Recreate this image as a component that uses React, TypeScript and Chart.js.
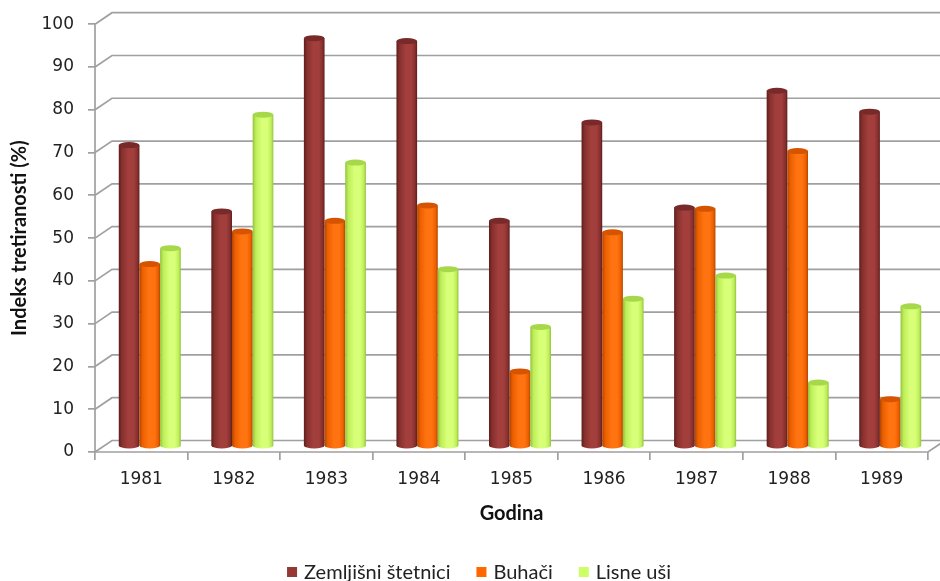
import React, { useEffect, useRef } from 'react';
import { Chart, registerables } from 'chart.js';

Chart.register(...registerables);

// ---- data ----
const years = ['1981', '1982', '1983', '1984', '1985', '1986', '1987', '1988', '1989'];
const zemljisniStetnici = [70.4, 54.9, 95.4, 94.7, 52.7, 75.7, 55.8, 83.1, 78.2];
const buhaci = [42.6, 50.2, 52.7, 56.3, 17.5, 50.0, 55.5, 69.0, 11.0];
const lisneUsi = [46.3, 77.5, 66.3, 41.4, 27.9, 34.5, 39.9, 14.9, 32.7];
const seriesLabels = ['Zemljišni štetnici', 'Buhači', 'Lisne uši'];
const yTitle = 'Indeks tretiranosti (%)';
const xTitle = 'Godina';

// ---- styles ----
const legendColors = ['#953735', '#ff6600', '#ccff66'];
const cylColors = [
  { dark: '#5e1d1c', mid: '#86302e', light: '#a23f3c', top: '#772a29' },
  { dark: '#b04600', mid: '#eb5f00', light: '#ff7410', top: '#d65400' },
  { dark: '#93c23c', mid: '#bdee58', light: '#d8ff78', top: '#a6d84a' },
];
const DX = 17;
const DY = 11.5;
const GRID = '#a0a0a0';

const wallPlugin = {
  id: 'wall3d',
  beforeDatasetsDraw(chart: any) {
    const { ctx, chartArea, scales } = chart;
    const { left, right, bottom } = chartArea;
    const y = scales.y;
    ctx.save();
    ctx.strokeStyle = GRID;
    ctx.lineWidth = 1.7;
    y.ticks.forEach((t: any) => {
      const py = y.getPixelForValue(t.value);
      ctx.beginPath();
      ctx.moveTo(left, py);
      ctx.lineTo(left + DX, py - DY);
      ctx.lineTo(chart.width + 2, py - DY);
      ctx.stroke();
    });
    // floor front edge
    ctx.beginPath();
    ctx.moveTo(left, bottom);
    ctx.lineTo(right, bottom);
    ctx.lineTo(right + DX, bottom - DY);
    ctx.stroke();
    // front vertical axis
    ctx.beginPath();
    ctx.moveTo(left, y.getPixelForValue(100));
    ctx.lineTo(left, bottom);
    ctx.stroke();
    ctx.restore();
  },
};

const cylinderPlugin = {
  id: 'cylinders',
  afterDatasetsDraw(chart: any) {
    const { ctx } = chart;
    const n = chart.data.labels.length;
    ctx.save();
    ctx.translate(DX / 2, -DY / 2);
    for (let i = 0; i < n; i++) {
      chart.data.datasets.forEach((_: any, di: number) => {
        const meta = chart.getDatasetMeta(di);
        const el = meta.data[i];
        if (!el) return;
        const { x, y, base, width } = el.getProps(['x', 'y', 'base', 'width'], true);
        const c = cylColors[di];
        const l = x - width / 2;
        const r = x + width / 2;
        const ry = 3;
        const g = ctx.createLinearGradient(l, 0, r, 0);
        g.addColorStop(0, c.dark);
        g.addColorStop(0.15, c.mid);
        g.addColorStop(0.45, c.light);
        g.addColorStop(0.72, c.light);
        g.addColorStop(0.9, c.mid);
        g.addColorStop(1, c.dark);
        ctx.beginPath();
        ctx.moveTo(l, y);
        ctx.lineTo(l, base);
        ctx.ellipse(x, base, width / 2, ry, 0, Math.PI, 0, true);
        ctx.lineTo(r, y);
        ctx.closePath();
        ctx.fillStyle = g;
        ctx.fill();
        ctx.beginPath();
        ctx.ellipse(x, y, width / 2, ry, 0, 0, Math.PI * 2);
        ctx.fillStyle = c.top;
        ctx.fill();
      });
    }
    ctx.restore();
  },
};

const legendPlugin = {
  id: 'customLegend',
  afterDraw(chart: any) {
    const { ctx } = chart;
    ctx.save();
    ctx.font = '20px Lato';
    ctx.textBaseline = 'middle';
    const box = 10;
    const gapText = 7;
    const gapItem = 26;
    const widths = seriesLabels.map((s) => ctx.measureText(s).width);
    const total = widths.reduce((a, w) => a + box + gapText + w, 0) + gapItem * (seriesLabels.length - 1);
    let x = chart.width / 2 + 9 - total / 2;
    const yc = 572;
    seriesLabels.forEach((s, i) => {
      ctx.fillStyle = legendColors[i];
      ctx.fillRect(x, yc - box / 2, box, box);
      ctx.fillStyle = '#222';
      ctx.fillText(s, x + box + gapText, yc + 1);
      x += box + gapText + widths[i] + gapItem;
    });
    ctx.restore();
  },
};

export default function App() {
  const ref = useRef<HTMLCanvasElement>(null);
  useEffect(() => {
    if (!ref.current) return;
    const tickFont = { family: 'DejaVu Sans', size: 17 };
    const chart = new Chart(ref.current, {
      type: 'bar',
      data: {
        labels: years,
        datasets: [zemljisniStetnici, buhaci, lisneUsi].map((d, i) => ({
          label: seriesLabels[i],
          data: d,
          backgroundColor: 'rgba(0,0,0,0)',
          borderWidth: 0,
          barPercentage: 1,
          categoryPercentage: 0.67,
        })),
      },
      options: {
        animation: false,
        responsive: false,
        maintainAspectRatio: false,
        layout: { padding: { top: 24, right: 12, bottom: 0, left: 0 } },
        plugins: { legend: { display: false }, tooltip: { enabled: false } },
        scales: {
          x: {
            grid: { display: true, drawOnChartArea: false, tickLength: 8, color: GRID, lineWidth: 1.7, offset: true },
            border: { display: false },
            ticks: { font: tickFont, color: '#222', padding: 9 },
            title: {
              display: true,
              text: xTitle,
              color: '#111',
              font: { family: 'Lato', weight: 'bold', size: 20 },
              padding: { top: 0, bottom: 55 },
            },
            afterFit: (s: any) => {
              s.height = 129;
            },
          },
          y: {
            min: 0,
            max: 100,
            ticks: { stepSize: 10, font: tickFont, color: '#222', padding: 14 },
            grid: { display: true, drawOnChartArea: false, tickLength: 7, color: GRID, lineWidth: 1.7 },
            border: { display: false },
            title: {
              display: true,
              text: yTitle,
              color: '#111',
              font: { family: 'Lato', weight: 'bold', size: 20 },
              padding: { top: 8, bottom: 0 },
            },
            afterFit: (s: any) => {
              s.width = 95;
            },
          },
        },
      },
      plugins: [wallPlugin, cylinderPlugin, legendPlugin],
    } as any);
    return () => chart.destroy();
  }, []);
  return (
    <div style={{ position: 'absolute', left: 0, top: 0, width: 940, height: 581, background: '#fff' }}>
      <canvas ref={ref} width={940} height={581} style={{ width: 940, height: 581, display: 'block' }} />
    </div>
  );
}
